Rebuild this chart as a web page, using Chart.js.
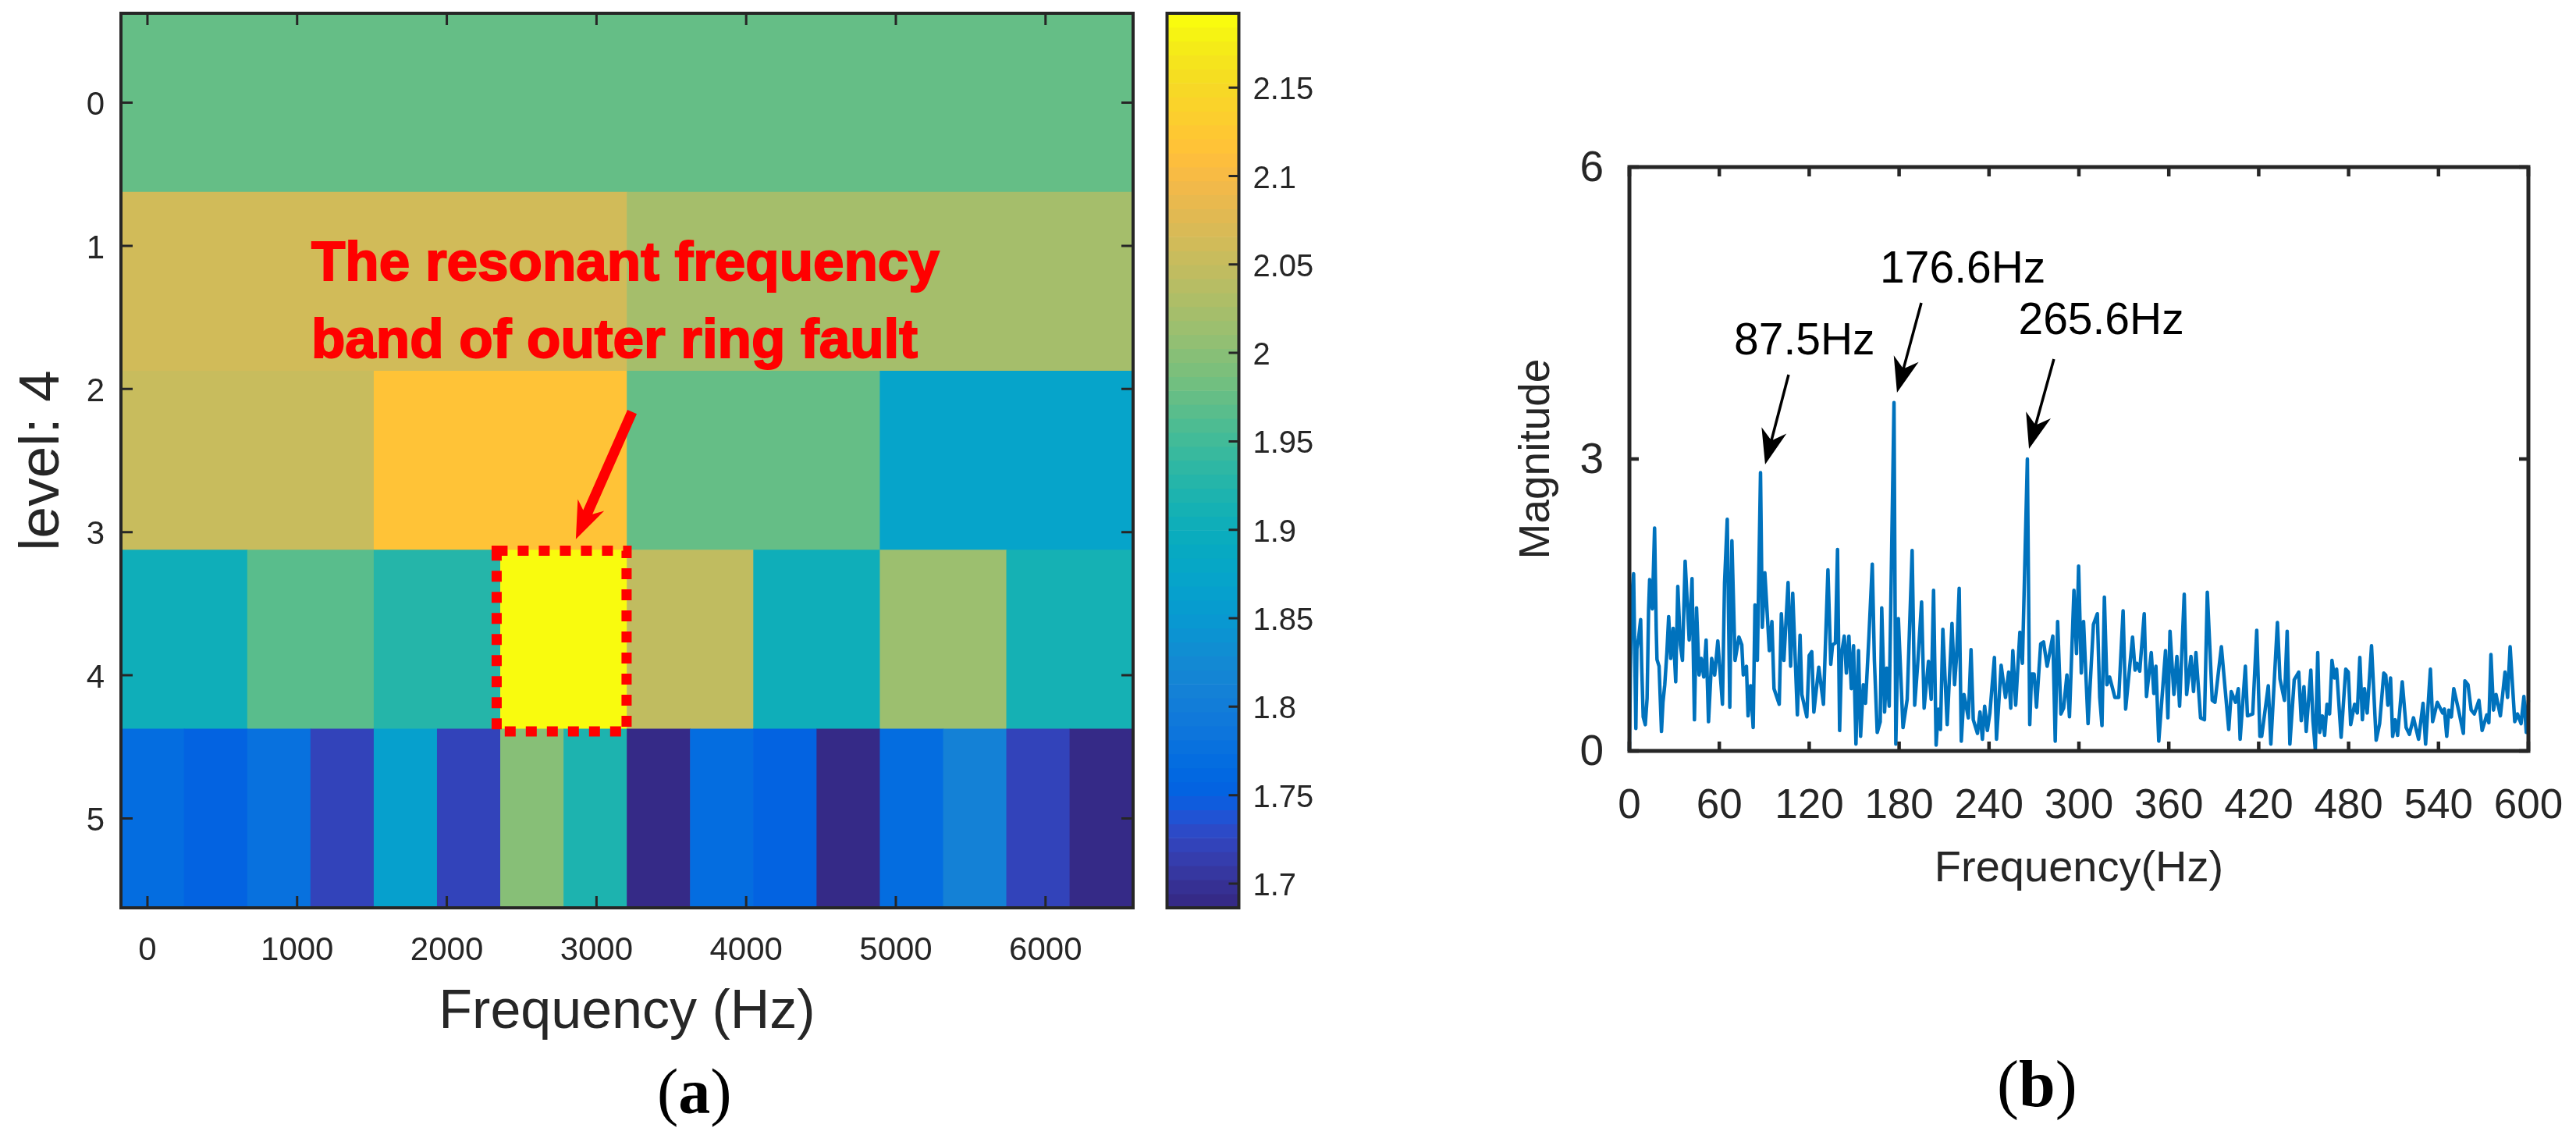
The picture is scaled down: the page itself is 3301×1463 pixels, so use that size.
<!DOCTYPE html>
<html>
<head>
<meta charset="utf-8">
<title>Kurtogram and envelope spectrum</title>
<script src="https://cdn.jsdelivr.net/npm/chart.js@4/dist/chart.umd.js"></script>
<style>
    html, body { margin: 0; padding: 0; background: #fff; width: 3301px; height: 1463px; overflow: hidden; }
    canvas { position: absolute; top: 0; }
    #heatmap { left: 0; }
    #colorbar { left: 1470px; }
    #spectrum { left: 1900px; }
    .panel { position: absolute; font-family: "Liberation Serif", serif; color: #000; line-height: 1em; white-space: pre; }
</style>
</head>
<body>
<canvas id="heatmap" width="1480" height="1463"></canvas>
<canvas id="colorbar" width="240" height="1463"></canvas>
<canvas id="spectrum" width="1401" height="1463"></canvas>
<div class="panel" style="left:842px;top:1358px;font-size:82px">(<b>a</b>)</div>
<div class="panel" style="left:2559px;top:1347px;font-size:84px">(<b>b</b>)</div>

<script>
// Panel (a): energy per cell, one array per row of the grid
const rowNames = ["r0", "r1", "r2", "r3", "r4"];
const row0 = [1.9747];
const row1 = [2.0616, 2.0221];
const row2 = [2.0537, 2.1169, 1.9747, 1.872];
const row3 = [1.9036, 1.9668, 1.9273, 2.188, 2.0458, 1.9036, 2.0142, 1.9115];
const row4 = [1.7693, 1.7535, 1.7772, 1.7219, 1.8641, 1.7219, 1.9984, 1.9194,
              1.6903, 1.7693, 1.7535, 1.6903, 1.7693, 1.8088, 1.7219, 1.6903];
const energyRows = [row0, row1, row2, row3, row4];

const freqTicks = [0, 1000, 2000, 3000, 4000, 5000, 6000];
const levelTicks = [0, 1, 2, 3, 4, 5];
const freqMin = -177, freqMax = 6585;
const levelMin = -0.625, levelMax = 5.625;
const energyMin = 1.6863, energyMax = 2.192;

// Colour table of the colour bar (parula, 64 steps)
const parula = [
    [0.2081,0.1663,0.5292],[0.2116,0.1898,0.5777],[0.2123,0.2138,0.6270],[0.2081,0.2386,0.6771],
    [0.1959,0.2645,0.7279],[0.1707,0.2919,0.7792],[0.1253,0.3242,0.8303],[0.0591,0.3598,0.8683],
    [0.0117,0.3875,0.8820],[0.0060,0.4086,0.8828],[0.0165,0.4266,0.8786],[0.0329,0.4430,0.8720],
    [0.0498,0.4586,0.8641],[0.0629,0.4737,0.8554],[0.0723,0.4887,0.8467],[0.0779,0.5040,0.8384],
    [0.0793,0.5200,0.8312],[0.0749,0.5375,0.8263],[0.0641,0.5570,0.8240],[0.0488,0.5772,0.8228],
    [0.0343,0.5966,0.8199],[0.0265,0.6137,0.8135],[0.0239,0.6287,0.8038],[0.0231,0.6418,0.7913],
    [0.0228,0.6535,0.7768],[0.0267,0.6642,0.7607],[0.0384,0.6743,0.7436],[0.0590,0.6838,0.7254],
    [0.0843,0.6928,0.7062],[0.1133,0.7015,0.6859],[0.1453,0.7098,0.6646],[0.1801,0.7177,0.6424],
    [0.2178,0.7250,0.6193],[0.2586,0.7317,0.5954],[0.3022,0.7376,0.5712],[0.3482,0.7424,0.5473],
    [0.3953,0.7459,0.5244],[0.4420,0.7481,0.5033],[0.4871,0.7491,0.4840],[0.5300,0.7491,0.4661],
    [0.5709,0.7485,0.4494],[0.6099,0.7473,0.4337],[0.6473,0.7456,0.4188],[0.6834,0.7435,0.4044],
    [0.7184,0.7411,0.3905],[0.7525,0.7384,0.3768],[0.7858,0.7356,0.3633],[0.8185,0.7327,0.3498],
    [0.8507,0.7299,0.3360],[0.8824,0.7274,0.3217],[0.9139,0.7258,0.3063],[0.9450,0.7261,0.2886],
    [0.9739,0.7314,0.2666],[0.9938,0.7455,0.2403],[0.9990,0.7653,0.2164],[0.9955,0.7861,0.1967],
    [0.9880,0.8066,0.1794],[0.9789,0.8271,0.1633],[0.9697,0.8481,0.1475],[0.9626,0.8705,0.1309],
    [0.9589,0.8949,0.1132],[0.9598,0.9218,0.0948],[0.9661,0.9514,0.0755],[0.9763,0.9831,0.0538]
];

// Panel (b): envelope spectrum, extremes
const spectrumFreq = [
    0,0.7,1.6,2.8,4.3,5.0,6.2,7.5,8.2,9.2,10.6,11.8,12.3,12.8,13.5,15.3,16.8,17.9,18.4,19.8,
    21.4,22.4,23.6,25.0,26.2,27.6,29.2,30.9,32.3,34.0,35.4,37.2,39.9,41.8,43.4,44.8,46.5,47.9,49.6,51.2,
    52.8,54.9,56.9,59.0,62.1,63.5,65.3,67.0,68.4,70.5,73.1,75.0,76.0,78.1,79.2,80.9,82.6,83.8,85.4,87.5,
    88.7,90.4,93.4,95.1,96.5,100.0,101.4,103.1,105.9,107.6,109.0,112.1,113.9,115.1,118.4,120.0,121.7,123.1,126.4,129.5,
    132.5,134.4,135.6,137.5,138.9,140.3,141.7,143.4,144.8,146.5,148.1,149.6,151.2,152.9,154.3,156.1,157.6,159.9,162.1,163.5,
    165.4,167.4,168.4,170.3,171.7,173.4,174.6,176.6,177.8,179.5,182.6,185.4,188.7,190.4,192.3,195.0,196.7,199.6,201.4,203.0,
    204.7,206.2,207.6,209.2,212.1,215.3,217.0,218.4,220.1,221.5,223.3,226.2,228.0,229.5,232.3,234.0,235.6,237.1,238.9,240.6,
    243.6,245.0,248.1,251.0,253.1,254.5,255.9,257.8,260.6,262.3,265.6,267.2,268.4,270.1,271.7,274.5,276.4,278.8,282.6,284.2,
    285.8,288.0,289.8,292.0,293.7,296.7,298.4,299.8,301.6,303.1,306.1,309.7,312.3,313.9,315.4,317.0,318.7,320.5,324.0,326.6,
    329.5,331.2,335.8,337.5,338.7,340.6,343.6,345.1,348.3,350.0,351.4,353.3,357.8,359.4,360.8,363.4,365.4,367.2,370.3,371.9,
    374.8,376.5,378.1,381.2,383.8,385.7,389.0,390.8,395.1,400.0,401.7,404.5,406.4,407.6,411.1,412.5,416.0,418.7,420.8,422.0,
    426.4,428.1,432.5,434.2,437.2,439.0,440.8,443.7,446.7,448.4,450.2,451.7,454.8,456.2,457.8,459.4,460.7,462.5,464.0,465.6,
    467.3,468.9,470.6,472.0,475.0,478.1,479.8,481.4,484.0,485.8,487.5,489.2,490.6,492.4,495.3,498.4,500.7,503.5,504.8,506.2,
    508.0,509.4,511.1,512.7,515.8,518.4,520.6,523.3,526.7,529.7,531.4,534.6,536.1,539.2,542.7,543.9,545.5,546.9,548.6,550.2,
    553.4,556.6,557.6,559.7,561.8,563.9,567.0,569.1,572.2,573.6,575.0,576.7,578.4,581.3,584.4,586.1,587.8,590.9,592.7,595.1,
    597.0,598.6,600.0
];
const spectrumMag = [
    0,0.84,1.57,1.82,0.23,1.05,1.17,1.35,0.87,0.35,0.27,0.54,0.99,1.45,1.76,1.46,2.29,1.25,0.94,0.87,
    0.20,0.50,0.68,1.01,1.38,0.95,1.26,0.71,1.69,1.09,0.93,1.95,1.14,1.77,0.32,1.47,0.78,0.95,0.76,1.14,
    0.30,0.95,0.78,1.13,0.48,1.73,2.38,0.45,2.16,0.93,1.17,1.09,0.78,0.87,0.36,0.67,0.24,1.50,0.93,2.86,
    1.27,1.83,1.03,1.33,0.64,0.48,1.41,0.93,1.73,0.87,1.62,0.37,1.19,0.58,0.35,0.98,1.02,0.40,0.86,0.48,
    1.86,0.89,1.09,1.11,2.07,0.21,1.01,1.18,0.80,1.18,0.64,1.08,0.07,1.03,0.15,0.68,0.49,1.19,1.92,0.93,
    0.19,0.30,1.47,0.40,0.85,0.46,1.65,3.58,0.07,1.36,0.24,0.53,2.06,0.47,0.87,1.53,0.44,0.92,0.53,1.65,
    0.06,0.43,0.22,1.25,0.27,1.31,0.68,0.98,1.67,0.10,0.58,0.34,1.04,0.32,0.18,0.40,0.12,0.46,0.21,0.39,
    0.96,0.12,0.88,0.55,0.81,0.44,1.03,0.47,1.22,0.90,3.00,0.27,0.79,0.79,0.45,1.10,1.12,0.87,1.18,0.10,
    1.33,0.38,0.44,0.78,0.35,1.65,1.00,1.90,0.80,1.33,0.28,1.30,1.41,0.55,0.26,1.58,0.68,0.76,0.55,0.55,
    1.44,0.43,1.17,0.83,0.90,0.82,1.41,0.56,1.01,0.59,0.87,0.10,1.03,0.34,1.23,0.58,0.97,0.46,1.61,0.58,
    0.97,0.61,1.01,0.34,0.32,1.63,0.52,0.50,1.07,0.22,0.61,0.50,0.64,0.12,0.87,0.36,0.38,1.24,0.15,0.15,
    0.67,0.07,1.32,0.74,0.52,1.23,0.07,0.73,0.81,0.31,0.66,0.20,0.83,0.31,0.01,1.01,0.19,0.36,0.16,0.48,
    0.38,0.93,0.75,0.84,0.14,0.84,0.81,0.27,0.48,0.39,0.96,0.32,0.64,0.39,1.08,0.11,0.28,0.80,0.78,0.47,
    0.75,0.15,0.32,0.16,0.71,0.24,0.17,0.34,0.12,0.49,0.07,0.84,0.30,0.50,0.39,0.43,0.15,0.42,0.35,0.64,
    0.42,0.18,0.72,0.68,0.42,0.38,0.52,0.21,0.37,0.29,0.99,0.42,0.58,0.36,0.81,0.55,1.07,0.30,0.38,0.28,
    0.56,0.19,0.52
];

// Annotations, in data coordinates
const bandLabel = ["The resonant frequency", "band of outer ring fault"];
const bandLabelAt = [[1095, 1.238], [1095, 1.778]];
const bandArrow = [3238, 2.16, 2862, 3.05];
const bandBox = [2333, 3.13, 3201, 4.392];
const peakLabels = ["87.5Hz", "176.6Hz", "265.6Hz"];
const peakLabelAt = [[69.8, 4.075], [167.2, 4.815], [259.6, 4.283]];
const peakArrows = [[106.25, 3.866, 90.6, 2.944], [194.8, 4.604, 178.6, 3.682], [283.3, 4.027, 266.7, 3.104]];

const FONT = '"Liberation Sans", Arial, sans-serif';
const DARK = "#262626";
Chart.defaults.font.family = FONT;
Chart.defaults.color = DARK;

function parulaCss(c) {
    return "rgb(" + c.map(v => Math.round(v * 255)).join(",") + ")";
}

// MATLAB style colour lookup
function energyColor(v) {
    let i = Math.floor((v - energyMin) / (energyMax - energyMin) * parula.length);
    i = Math.max(0, Math.min(parula.length - 1, i));
    return parulaCss(parula[i]);
}

// Build the grid cells, each row splits the frequency range evenly
const cells = [];
const cellColors = [];
energyRows.forEach((row, r) => {
    const w = (freqMax - freqMin) / row.length;
    row.forEach((v, i) => {
        cells.push({ x: [freqMin + i * w, freqMin + (i + 1) * w], y: rowNames[r] });
        cellColors.push(energyColor(v));
    });
});

// Colour bar steps
const barStep = (energyMax - energyMin) / parula.length;
const barSteps = parula.map((c, i) => ({ x: "cb", y: [energyMin + i * barStep, energyMin + (i + 1) * barStep] }));

function drawArrow(ctx, x0, y0, x1, y1, st) {
    const len = Math.hypot(x1 - x0, y1 - y0);
    const ux = (x1 - x0) / len, uy = (y1 - y0) / len;
    const px = -uy, py = ux;
    const at = (back, side) => [x1 - ux * back + px * side, y1 - uy * back + py * side];
    const pts = [
        [x0 + px * st.shaft / 2, y0 + py * st.shaft / 2],
        at(st.notch, st.shaft / 2),
        at(st.head, st.half),
        [x1, y1],
        at(st.head, -st.half),
        at(st.notch, -st.shaft / 2),
        [x0 - px * st.shaft / 2, y0 - py * st.shaft / 2]
    ];
    ctx.fillStyle = st.color;
    ctx.beginPath();
    pts.forEach((p, i) => i ? ctx.lineTo(p[0], p[1]) : ctx.moveTo(p[0], p[1]));
    ctx.closePath();
    ctx.fill();
}

// Pin the plot area: fixed axis size, no extra room for labels hanging over the ends
function pinWidth(w) {
    return s => { s.width = w; s.paddingTop = 0; s.paddingBottom = 0; };
}
function pinHeight(h) {
    return s => { s.height = h; s.paddingLeft = 0; s.paddingRight = 0; };
}

// Box frame and inward ticks, like a MATLAB axes
function matlabFrame(o) {
    return {
        id: "matlabFrame",
        afterDatasetsDraw(chart) {
            const { ctx, chartArea: a } = chart;
            ctx.save();
            ctx.strokeStyle = DARK;
            ctx.lineWidth = o.tickWidth;
            ctx.beginPath();
            if (o.xScale) {
                const s = chart.scales[o.xScale];
                s.ticks.forEach(t => {
                    const x = s.getPixelForValue(t.value);
                    ctx.moveTo(x, a.top); ctx.lineTo(x, a.top + o.tickLen);
                    ctx.moveTo(x, a.bottom); ctx.lineTo(x, a.bottom - o.tickLen);
                });
            }
            const s = chart.scales[o.yScale];
            s.ticks.forEach(t => {
                const y = s.getPixelForValue(t.value);
                if (!o.rightOnly) { ctx.moveTo(a.left, y); ctx.lineTo(a.left + o.tickLen, y); }
                ctx.moveTo(a.right, y); ctx.lineTo(a.right - o.tickLen, y);
            });
            ctx.stroke();
            ctx.lineWidth = o.frameWidth;
            ctx.strokeRect(a.left, a.top, a.right - a.left, a.bottom - a.top);
            ctx.restore();
        }
    };
}

const heatNotes = {
    id: "heatNotes",
    afterDatasetsDraw(chart) {
        const { ctx, scales: { x, y } } = chart;
        ctx.save();
        // dotted box around the selected band
        ctx.strokeStyle = "#ff0000";
        ctx.lineWidth = 13;
        ctx.setLineDash([14, 13]);
        ctx.strokeRect(x.getPixelForValue(bandBox[0]), y.getPixelForValue(bandBox[1]),
            x.getPixelForValue(bandBox[2]) - x.getPixelForValue(bandBox[0]),
            y.getPixelForValue(bandBox[3]) - y.getPixelForValue(bandBox[1]));
        ctx.setLineDash([]);
        drawArrow(ctx, x.getPixelForValue(bandArrow[0]), y.getPixelForValue(bandArrow[1]),
            x.getPixelForValue(bandArrow[2]), y.getPixelForValue(bandArrow[3]),
            { shaft: 13, head: 48, half: 18.5, notch: 38, color: "#ff0000" });
        ctx.fillStyle = "#ff0000";
        ctx.strokeStyle = "#ff0000";
        ctx.lineWidth = 2;
        ctx.font = "bold 71px " + FONT;
        ctx.textBaseline = "alphabetic";
        bandLabel.forEach((t, i) => {
            const tx = x.getPixelForValue(bandLabelAt[i][0]), ty = y.getPixelForValue(bandLabelAt[i][1]);
            ctx.fillText(t, tx, ty);
            ctx.strokeText(t, tx, ty);
        });
        ctx.restore();
    }
};

const peakNotes = {
    id: "peakNotes",
    afterDatasetsDraw(chart) {
        const { ctx, scales: { x, y } } = chart;
        ctx.save();
        ctx.font = "57px " + FONT;
        ctx.textBaseline = "alphabetic";
        peakLabels.forEach((t, i) => {
            ctx.fillStyle = "#000";
            ctx.fillText(t, x.getPixelForValue(peakLabelAt[i][0]), y.getPixelForValue(peakLabelAt[i][1]));
            const a = peakArrows[i];
            drawArrow(ctx, x.getPixelForValue(a[0]), y.getPixelForValue(a[1]),
                x.getPixelForValue(a[2]), y.getPixelForValue(a[3]),
                { shaft: 3.5, head: 45, half: 16.5, notch: 33, color: "#000" });
        });
        ctx.restore();
    }
};

const flat = { grid: { display: false, drawTicks: false }, border: { display: false } };

// Panel (a) grid
new Chart(document.getElementById("heatmap"), {
    type: "bar",
    data: {
        datasets: [{
            data: cells,
            backgroundColor: cellColors,
            borderWidth: 0,
            barPercentage: 1,
            categoryPercentage: 1,
            xAxisID: "x",
            yAxisID: "row"
        }]
    },
    options: {
        indexAxis: "y",
        responsive: false,
        animation: false,
        layout: { padding: { top: 17, right: 28 } },
        plugins: { legend: { display: false }, tooltip: { enabled: false } },
        scales: {
            row: { type: "category", labels: rowNames, display: false, position: "left" },
            x: {
                type: "linear", min: freqMin, max: freqMax, position: "bottom", ...flat,
                afterBuildTicks(s) { s.ticks = freqTicks.map(value => ({ value })); },
                ticks: { autoSkip: false, maxRotation: 0, padding: 30, font: { size: 42 }, callback: v => String(v) },
                title: { display: true, text: "Frequency (Hz)", font: { size: 70 }, padding: { bottom: 123, top: 0 } },
                afterFit: pinHeight(300)
            },
            y: {
                type: "linear", offset: false, min: levelMin, max: levelMax, reverse: true, position: "left", ...flat,
                afterBuildTicks(s) { s.ticks = levelTicks.map(value => ({ value })); },
                ticks: { autoSkip: false, padding: 21, labelOffset: 4, font: { size: 42 }, callback: v => String(v) },
                title: { display: true, text: "level: 4", font: { size: 73 }, padding: { top: 11, bottom: 0 } },
                afterFit: pinWidth(155)
            }
        }
    },
    plugins: [matlabFrame({ xScale: "x", yScale: "y", tickLen: 15, tickWidth: 3, frameWidth: 4 }), heatNotes]
});

// Colour bar
new Chart(document.getElementById("colorbar"), {
    type: "bar",
    data: {
        labels: ["cb"],
        datasets: [{
            data: barSteps,
            backgroundColor: parula.map(parulaCss),
            borderWidth: 0,
            barPercentage: 1,
            categoryPercentage: 1
        }]
    },
    options: {
        responsive: false,
        animation: false,
        layout: { padding: { top: 17, bottom: 300, left: 25.5 } },
        plugins: { legend: { display: false }, tooltip: { enabled: false } },
        scales: {
            x: { display: false },
            y: {
                type: "linear", min: energyMin, max: energyMax, position: "right", ...flat,
                ticks: {
                    stepSize: 0.05, includeBounds: false, autoSkip: false, padding: 18, labelOffset: 4, font: { size: 40 },
                    callback: v => String(+v.toFixed(2))
                },
                afterFit: pinWidth(122.5)
            }
        }
    },
    plugins: [matlabFrame({ yScale: "y", rightOnly: true, tickLen: 13, tickWidth: 3, frameWidth: 4 })]
});

// Panel (b) spectrum
new Chart(document.getElementById("spectrum"), {
    type: "line",
    data: {
        labels: spectrumFreq,
        datasets: [{
            data: spectrumMag,
            borderColor: "#0072bd",
            borderWidth: 4.5,
            borderJoinStyle: "round",
            pointRadius: 0,
            tension: 0,
            fill: false,
            clip: false
        }]
    },
    options: {
        responsive: false,
        animation: false,
        layout: { padding: { top: 214, right: 61 } },
        plugins: { legend: { display: false }, tooltip: { enabled: false } },
        scales: {
            x: {
                type: "linear", min: 0, max: 600, position: "bottom", ...flat,
                ticks: { stepSize: 60, autoSkip: false, maxRotation: 0, padding: 40, font: { size: 53 } },
                title: { display: true, text: "Frequency(Hz)", font: { size: 56 }, padding: { bottom: 316, top: 0 } },
                afterFit: pinHeight(501)
            },
            y: {
                type: "linear", min: 0, max: 6, position: "left", ...flat,
                ticks: { stepSize: 3, autoSkip: false, padding: 33, labelOffset: 3, font: { size: 55 } },
                title: { display: true, text: "Magnitude", font: { size: 55 }, padding: { top: 37, bottom: 0 } },
                afterFit: pinWidth(188)
            }
        }
    },
    plugins: [matlabFrame({ xScale: "x", yScale: "y", tickLen: 12, tickWidth: 4.5, frameWidth: 5 }), peakNotes]
});
</script>
</body>
</html>
